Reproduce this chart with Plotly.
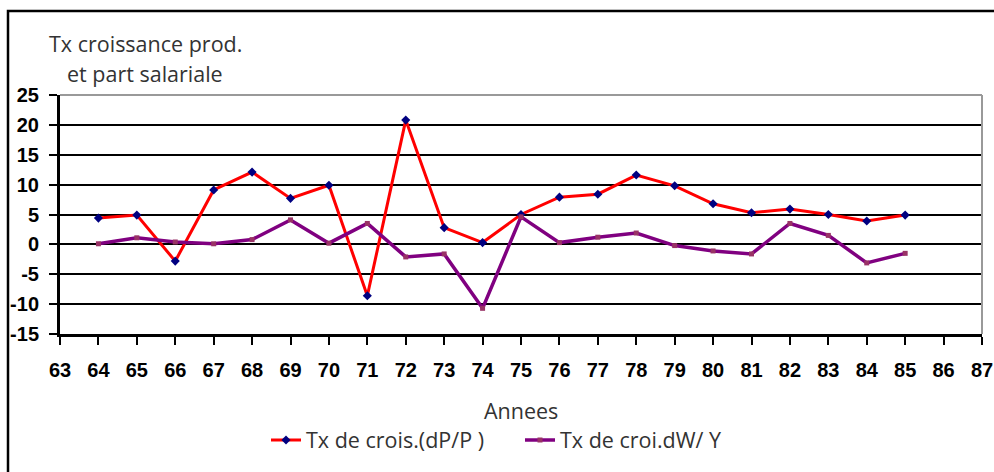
import plotly.graph_objects as go

# ---- data ----
years = [64, 65, 66, 67, 68, 69, 70, 71, 72, 73, 74, 75, 76, 77, 78, 79, 80, 81, 82, 83, 84, 85]
croissance_prod = [4.4, 4.9, -2.8, 9.1, 12.1, 7.7, 9.9, -8.6, 20.8, 2.8, 0.3, 5.0, 7.9, 8.4, 11.6, 9.8, 6.8, 5.3, 5.9, 5.0, 3.9, 4.9]
part_salariale = [0.1, 1.1, 0.4, 0.1, 0.8, 4.1, 0.2, 3.5, -2.1, -1.6, -10.7, 4.6, 0.3, 1.2, 1.9, -0.2, -1.1, -1.6, 3.5, 1.5, -3.1, -1.5]
x_tick_labels = [str(v) for v in range(63, 88)]
y_tick_labels = ["-15", "-10", "-5", "0", "5", "10", "15", "20", "25"]
series_names = ["Tx de crois.(dP/P )", "Tx de croi.dW/ Y"]
title_lines = ["Tx croissance prod.", "et part salariale"]
x_title = "Annees"

W, H = 994, 472
L, R, T, B = 60, 982, 95, 334
pw, ph = R - L, B - T


def px_x(x):
    return (x - L) / pw


def px_y(y):
    return (B - y) / ph


TXT = "#333333"
tick_font = dict(family="Liberation Sans, Arial", size=20, color="#000000", weight="bold")
text_font = dict(family="Open Sans, Liberation Sans, Arial", size=21.5, color=TXT)

fig = go.Figure()
fig.add_trace(go.Scatter(
    x=years, y=croissance_prod, name=series_names[0], mode="lines+markers",
    line=dict(color="#FF0000", width=3),
    marker=dict(symbol="diamond", size=7, color="#000080"),
))
fig.add_trace(go.Scatter(
    x=years, y=part_salariale, name=series_names[1], mode="lines+markers",
    line=dict(color="#800080", width=3.5),
    marker=dict(symbol="square", size=5, color="#993366"),
))

fig.update_layout(
    width=W, height=H,
    margin=dict(l=L, r=W - R, t=T, b=H - B, autoexpand=False),
    paper_bgcolor="white", plot_bgcolor="white",
    showlegend=True,
    legend=dict(orientation="h", x=px_x(266), xanchor="left", y=px_y(440), yanchor="middle",
                font=text_font, bgcolor="rgba(0,0,0,0)", entrywidth=209, entrywidthmode="pixels"),
    xaxis=dict(range=[63, 87], tickvals=[int(v) for v in x_tick_labels], ticktext=x_tick_labels,
               showgrid=False, zeroline=False, showline=True, linecolor="#000000", linewidth=3,
               ticks="outside", ticklen=8, tickwidth=2, tickcolor="#000000", automargin=False,
               tickfont=tick_font, ticklabelstandoff=8),
    yaxis=dict(range=[-15, 25], tickvals=[int(v) for v in y_tick_labels], ticktext=y_tick_labels,
               showgrid=True, gridcolor="#000000", gridwidth=1.6, zeroline=False,
               showline=True, linecolor="#000000", linewidth=3, automargin=False,
               ticks="outside", ticklen=8, tickwidth=2, tickcolor="#000000",
               tickfont=tick_font, ticklabelstandoff=6),
)

# grey plot-area frame (top and right)
fig.add_shape(type="line", xref="paper", yref="paper", x0=0, x1=1, y0=1, y1=1,
              line=dict(color="#999999", width=2), layer="above")
fig.add_shape(type="line", xref="paper", yref="paper", x0=1, x1=1, y0=0, y1=1,
              line=dict(color="#999999", width=2), layer="above")
# outer chart border
fig.add_shape(type="rect", xref="paper", yref="paper", x0=px_x(8), x1=px_x(1010),
              y0=px_y(490), y1=px_y(11), line=dict(color="#000000", width=2.5), layer="above")

fig.add_annotation(text=title_lines[0], xref="paper", yref="paper", x=px_x(47), y=px_y(43),
                   xanchor="left", yanchor="middle", showarrow=False, font=text_font)
fig.add_annotation(text=title_lines[1], xref="paper", yref="paper", x=px_x(65), y=px_y(73),
                   xanchor="left", yanchor="middle", showarrow=False, font=text_font)
fig.add_annotation(text=x_title, xref="paper", yref="paper", x=0.5, y=px_y(410),
                   xanchor="center", yanchor="middle", showarrow=False, font=text_font)

fig.write_html("out.html", config={"displayModeBar": False},
               post_script="document.body.style.margin='0';")
